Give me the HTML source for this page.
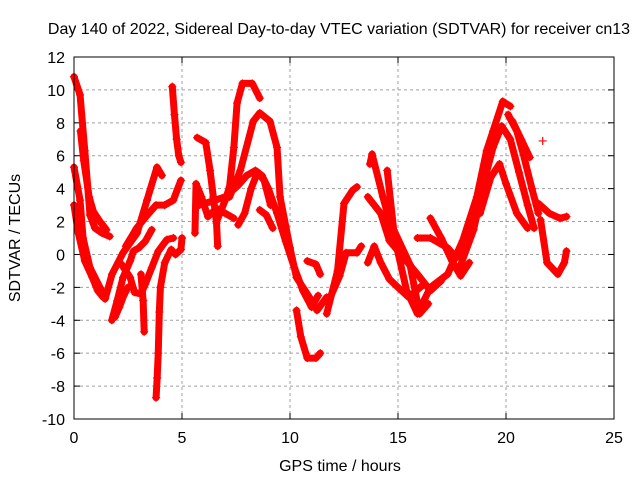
<!DOCTYPE html>
<html><head><meta charset="utf-8"><style>
html,body{margin:0;padding:0;background:#fff;}
svg{display:block;font-family:"Liberation Sans",sans-serif;}
</style></head><body>
<svg id="chart" width="640" height="480" viewBox="0 0 640 480" xmlns="http://www.w3.org/2000/svg">
<rect width="640" height="480" fill="#fff"/>
<text x="339" y="34" font-size="16" text-anchor="middle" fill="#000">Day 140 of 2022, Sidereal Day-to-day VTEC variation (SDTVAR) for receiver cn13</text>
<text transform="translate(20,238) rotate(-90)" font-size="16" text-anchor="middle" fill="#000">SDTVAR / TECUs</text>
<text x="340" y="471" font-size="16" text-anchor="middle" fill="#000">GPS time / hours</text>
<g id="grid"></g><g id="ticks"></g><g id="series"></g>
<rect x="74" y="57" width="540" height="362" fill="none" stroke="#000" stroke-width="1"/>
</svg>
<script>
const xTicks=[0,5,10,15,20,25];
const yTicks=[-10,-8,-6,-4,-2,0,2,4,6,8,10,12];
const trackA=[[0,10.8],[0.28,9.7],[0.5,6.3],[0.74,2.4],[0.97,1.6],[1.3,1.3],[1.65,1.1]];
const trackA2=[[0.3,7.5],[0.45,5.7],[0.7,3.5],[0.9,2.6],[1.2,2.0],[1.5,1.5]];
const trackB=[[0,5.3],[0.28,3.3],[0.42,1.0],[0.74,-0.8],[1.2,-2.0],[1.44,-2.7],[1.76,-1.2],[2.27,0.1],[2.92,1.3],[3.38,3.3],[3.84,5.3],[4.07,4.8]];
const trackC=[[0,3.0],[0.2,1.3],[0.5,-0.4],[0.85,-1.4],[1.1,-2.2],[1.35,-2.6]];
const trackD=[[1.75,-4.0],[2.0,-2.8],[2.27,-1.4],[2.6,-0.4],[2.75,0.2],[3.0,0.4],[3.3,0.8],[3.6,1.5]];
const trackD2=[[2.2,-0.6],[2.6,-1.4],[2.8,-2.3],[3.1,-2.4],[3.3,-1.8],[3.6,-0.8],[3.9,0.2],[4.3,0.9],[4.6,1.0]];
const trackD3=[[1.9,-3.8],[2.1,-3.2],[2.3,-2.5],[2.5,-2.0]];
const trackE=[[3.8,-8.7],[3.85,-7.5],[3.9,-6],[3.95,-3.5],[4.0,-2],[4.2,-0.5],[4.5,0.3],[4.7,0],[4.95,0.3],[5.0,1.0]];
const trackF=[[3.1,-1.2],[3.2,-2.8],[3.25,-4.7]];
const trackG=[[4.55,10.2],[4.65,8.5],[4.75,7],[4.85,6],[4.95,5.6]];
const trackH=[[2.4,0.5],[2.9,1.6],[3.4,2.4],[3.8,3.0],[4.2,3.0],[4.6,3.3],[4.8,4.0],[4.95,4.5]];
const trackI=[[6.6,2.0],[7.0,3.3],[7.2,4.1],[7.4,6.5],[7.55,9.2],[7.8,10.4],[8.25,10.4],[8.6,9.5]];
const trackJ=[[7.2,3.5],[7.7,5.1],[8.3,8.1],[8.6,8.6],[9.07,8.1],[9.4,6.5],[9.54,3.5],[10.0,0.4],[10.3,-1.4],[10.9,-2.6],[11.25,-3.4],[11.7,-2.6]];
const trackK=[[5.8,3],[6.3,3.2],[7.0,3.5],[7.6,4.2],[8.0,4.8],[8.4,5.1],[8.7,4.8],[9.0,4],[9.4,2.5],[9.8,0.8],[10.2,-0.8],[10.6,-2.2],[11.0,-3.2],[11.3,-2.5]];
const trackK2=[[7.6,1.8],[7.9,2.5],[8.2,4.0],[8.5,5.0],[8.8,4.5],[9.1,3.0]];
const trackM=[[5.7,7.1],[6.1,6.8],[6.3,5.1],[6.45,3.5],[6.6,1.9],[6.65,0.5]];
const trackN=[[5.6,1.3],[5.65,4.3],[5.9,3.5],[6.2,2.3],[6.6,2.8],[7.0,2.5],[7.4,2.2]];
const trackO=[[8.6,2.7],[8.9,2.4],[9.2,1.6]];
const trackP=[[10.8,-0.4],[11.2,-0.6],[11.4,-1.2]];
const trackQ=[[10.3,-3.4],[10.5,-5],[10.8,-6.3],[11.2,-6.3],[11.4,-6.0]];
const trackR=[[11.7,-3.6],[12.2,-1.0],[12.5,3.1],[12.9,3.9],[13.1,4.1]];
const trackS=[[11.8,-2.8],[12.3,-1.3],[12.6,0.1],[13.1,0.1],[13.3,0.5]];
const trackT=[[13.7,5.5],[13.8,6.1],[14.3,3.5],[14.95,0.4],[15.4,-2.2],[15.9,-3.6],[16.5,-2.0],[17.3,-1.2],[18.0,0.85],[18.65,3.5],[19.1,6.3],[19.4,7.5],[19.85,9.3],[20.2,9.0]];
const trackU=[[14.5,5.1],[14.8,1.5],[15.55,-0.6],[16.0,-3.6],[16.4,-3.0]];
const trackV=[[13.6,3.5],[14.2,2.5],[14.6,0.85],[15.9,-1.2],[16.5,-2.2],[17.0,-1.6]];
const trackW=[[13.6,-0.5],[13.9,0.5],[14.2,-0.5],[14.6,-1.5],[15.0,-2.0],[15.5,-2.6],[16.2,-1.8]];
const trackX=[[15.9,1.0],[16.5,1.0],[17.3,0.4],[17.7,-0.2],[18.2,0.6],[18.6,2.5]];
const trackY=[[16.5,2.2],[17.0,1.0],[17.5,-0.4],[17.9,-1.3],[18.3,-0.5]];
const trackZ1=[[17.8,-1.0],[18.5,1.5],[19.0,4.5],[19.4,6.5],[19.8,7.8],[20.2,7.0],[20.6,5],[21.0,3.0],[21.3,1.6]];
const trackZ2=[[18.8,2.5],[19.3,4.7],[19.7,5.5],[20.0,4.3],[20.5,2.5],[21.0,1.6]];
const trackZ3=[[20.1,8.5],[20.5,7.5],[20.8,6.1],[21.2,4.0],[21.5,2.5]];
const trackZ4=[[21.5,3.1],[22.0,2.5],[22.5,2.2],[22.8,2.3]];
const trackZ5=[[21.6,2.1],[21.9,-0.5],[22.4,-1.2],[22.7,-0.5],[22.8,0.2]];
const trackZ6=[[20.3,8.1],[20.7,7],[21.1,5.9]];
const trackZ7=[[21.7,6.9]];
const tracks=[trackA,trackA2,trackB,trackC,trackD,trackD2,trackD3,trackE,trackF,trackG,trackH,trackI,trackJ,trackK,trackK2,trackM,trackN,trackO,trackP,trackQ,trackR,trackS,trackT,trackU,trackV,trackW,trackX,trackY,trackZ1,trackZ2,trackZ3,trackZ4,trackZ5,trackZ6,trackZ7];

const X0=74,X1=614,Y0=419,Y1=57;
function sx(h){return X0+(h-0)/(25-0)*(X1-X0);}
function sy(v){return Y0-(v-(-10))/(12-(-10))*(Y0-Y1);}
const NS="http://www.w3.org/2000/svg";
function mk(tag,attrs,parent){const e=document.createElementNS(NS,tag);for(const k in attrs)e.setAttribute(k,attrs[k]);parent.appendChild(e);return e;}
const grid=document.getElementById('grid'),ticks=document.getElementById('ticks'),series=document.getElementById('series');
xTicks.forEach(t=>{
  const x=sx(t);
  if(t>0&&t<25){const g=mk('line',{x1:x,x2:x,y1:Y1,y2:Y0,stroke:'#a0a0a0','stroke-dasharray':'3,3'},grid);
  
  }
  mk('line',{x1:x,x2:x,y1:Y0,y2:Y0-6,stroke:'#000'},ticks);
  mk('line',{x1:x,x2:x,y1:Y1,y2:Y1+6,stroke:'#000'},ticks);
  const l=mk('text',{x:x,y:Y0+24,'font-size':'16','text-anchor':'middle'},ticks);
  
  
  l.textContent=t;
});
yTicks.forEach(t=>{
  const y=sy(t);
  if(t>-10&&t<12){const g=mk('line',{x1:X0,x2:X1,y1:y,y2:y,stroke:'#a0a0a0','stroke-dasharray':'3,3'},grid);
  
  }
  mk('line',{x1:X0,x2:X0+6,y1:y,y2:y,stroke:'#000'},ticks);
  mk('line',{x1:X1,x2:X1-6,y1:y,y2:y,stroke:'#000'},ticks);
  const l=mk('text',{x:X0-9,y:y+6,'font-size':'16','text-anchor':'end'},ticks);
  
  
  l.textContent=t;
});
tracks.forEach((tr,i)=>{
  const g=mk('g',{},series);
  
  
  if(tr.length>1){
    mk('polyline',{points:tr.map(p=>sx(p[0])+','+sy(p[1])).join(' '),fill:'none',stroke:'#ff0000','stroke-width':'7','stroke-linejoin':'round','stroke-linecap':'round'},g);
  }
  tr.forEach(p=>{
    const x=sx(p[0]),y=sy(p[1]);
    const m=mk('path',{d:`M${x-4},${y}H${x+4}M${x},${y-4}V${y+4}`,stroke:'#ff0000','stroke-width':'1.2'},g);
    
    
  });
});
</script>
</body></html>
